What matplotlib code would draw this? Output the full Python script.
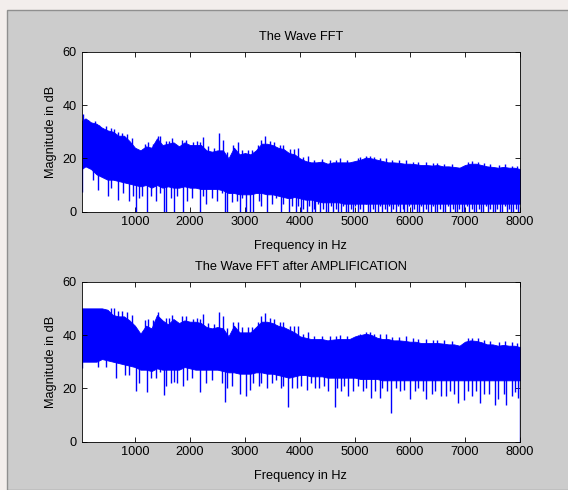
import numpy as np
import matplotlib.pyplot as plt
from matplotlib import font_manager
from matplotlib.patches import Rectangle

# the MATLAB text is narrow; use the narrow face if it is there
_names = {f.name for f in font_manager.fontManager.ttflist}
if 'Liberation Sans Narrow' in _names:
    plt.rcParams['font.family'] = ['Liberation Sans Narrow', 'DejaVu Sans']
    FS = 10.5
else:
    plt.rcParams['font.family'] = ['Liberation Sans', 'DejaVu Sans']
    FS = 9.2

BLUE = '#0000ff'

# envelope grid (Hz), first bin just above 0
ENV_HZ = [30] + list(range(100, 8001, 100))

# top plot: upper edge and lower edge of the solid band (dB)
TOP_HI = [34, 35, 33.5, 33, 31.5, 30.5, 30, 28.5, 28.5, 26.5,
          24, 23, 24.5, 24, 27.5, 25, 25.5, 26, 24.5, 26,
          25, 25, 25, 23, 22.5, 23, 23, 20, 24, 21.5,
          22, 21.5, 23, 25.5, 25.5, 25, 24, 23.5, 22, 21.5,
          20, 19, 18.5, 18.5, 18.8, 18, 18.5, 18.5, 18.5, 18.5,
          19, 19.5, 20.3, 20, 19.5, 19, 18.5, 18.5, 18.3, 18,
          18, 17.8, 17.5, 17.5, 17.3, 17.5, 17, 17, 16.8, 16.5,
          17.5, 18, 18, 17.5, 17, 16.8, 16.5, 16.8, 16.5, 16.5, 16]
TOP_LO = [16, 17, 16, 14, 13, 12, 12, 11.5, 11, 10.5,
          10, 9.5, 10, 9, 10, 9, 9.5, 9, 9, 9.5,
          9, 9, 8.5, 8.5, 8.5, 8.5, 8, 7, 7, 6.5,
          6.5, 6.5, 7, 7, 6.5, 6.5, 6, 5.5, 5, 5.5,
          5, 4.5, 4.5, 4, 3.5, 3.5, 3.5, 3.5, 3, 3,
          3, 3, 3, 3, 3, 3, 3, 3, 3, 3,
          3, 3, 3, 3, 3, 3, 3, 3, 3, 3,
          3, 3, 3, 3, 3, 3, 3, 3, 3, 3, 3]

# bottom plot (after amplification)
BOT_HI = [50, 50, 50, 50, 50, 49.5, 47.5, 47, 47, 45.5,
          43.5, 40.5, 43.5, 42.5, 47.5, 45.5, 44, 46, 44.5, 45.5,
          45, 45, 44.5, 43, 42.5, 43, 42.5, 39.5, 43.5, 41,
          41, 41, 43, 45, 45, 44.5, 43.5, 43, 42, 41,
          39.5, 39, 38.5, 38.5, 38.5, 38, 38.3, 38.5, 38.5, 38.5,
          39.5, 40, 40.5, 40, 39, 38.5, 38.5, 38, 38, 37.8,
          37.5, 37.5, 37, 37, 37, 37, 36.8, 36.5, 36.5, 36,
          37.5, 38, 37.8, 37.3, 36.5, 36.5, 36, 36.3, 36, 36, 35.5]
BOT_LO = [30, 30, 30, 30, 31, 30.5, 30, 29.5, 29, 28.5,
          28, 27, 27, 26.5, 27.5, 27, 27, 27, 27, 28,
          27.5, 27, 27, 27, 27, 27, 26.5, 26, 26, 25.5,
          25.5, 25.5, 26, 26, 25.5, 25.5, 25, 24.5, 24, 24.5,
          25, 25, 24.5, 24.5, 24.5, 24, 24, 24, 24, 24,
          24, 23.5, 23.5, 23.5, 23.5, 23, 23, 23, 23, 23,
          23, 23, 23, 23, 23, 23, 23, 23, 23, 23,
          23, 23, 23, 23, 23, 23, 23, 23, 23, 23, 23]

# single bins sticking out below / above the band (Hz, dB)
TOP_DIPS = [(32, 7.5), (240, 12), (330, 8), (510, 6), (560, 9), (700, 4.5), (780, 7),
            (890, 4), (960, 6), (1012, 0), (1070, 5), (1130, 6), (1212, 0), (1300, 6),
            (1380, 4), (1450, 7), (1527, 0), (1570, 0), (1650, 5), (1709, 0), (1760, 6),
            (1880, 0), (1950, 4), (2030, 5), (2180, 0), (2240, 6), (2300, 3), (2400, 5),
            (2500, 4), (2580, 7), (2636, 0), (2667, 0), (2760, 3.5), (2850, 4), (2909, 0),
            (2950, 5), (3018, 0), (3090, 0), (3150, 0), (3250, 4), (3300, 2), (3400, 0),
            (3500, 3), (3560, 5), (3650, 0), (3700, 3), (3800, 0), (3850, 2),
            (3920, 0), (3960, 2), (4010, 0), (4060, 1), (4120, 0), (4160, 2), (4210, 0),
            (4250, 1), (4280, 0), (4330, 3), (4370, 0), (4420, 1), (4470, 0), (4515, 0),
            (4560, 2), (4606, 0), (4650, 1), (4700, 0), (4740, 0), (4790, 2), (4830, 0),
            (4880, 0), (4920, 1), (4960, 0), (5000, 2), (5050, 0), (5100, 1), (5150, 0),
            (5200, 3), (5240, 0), (5270, 0), (5320, 1), (5360, 0), (5410, 0), (5450, 2),
            (5500, 0), (5540, 1), (5580, 0), (5620, 2), (5650, 0), (5700, 1), (5750, 0),
            (5790, 2), (5820, 0), (5870, 1), (5900, 0), (5950, 0), (5990, 2), (6040, 0),
            (6080, 1), (6120, 0), (6160, 0), (6200, 2), (6240, 0), (6290, 1), (6330, 0),
            (6380, 0), (6420, 2), (6460, 0), (6500, 0), (6550, 1), (6600, 0), (6640, 0),
            (6690, 2), (6730, 0), (6780, 1), (6820, 0), (6860, 0), (6900, 1), (6950, 0),
            (6990, 0), (7040, 2), (7080, 0), (7120, 1), (7160, 0), (7200, 0), (7250, 1),
            (7290, 0), (7330, 0), (7380, 2), (7420, 0), (7460, 1), (7500, 0), (7540, 0),
            (7590, 1), (7630, 0), (7670, 0), (7720, 2), (7760, 0), (7800, 1), (7840, 0),
            (7880, 0), (7930, 1), (7970, 0), (7998, 0)]
TOP_PEAKS = [(60, 36.5), (150, 34.5), (280, 34), (350, 32.5), (470, 32), (560, 31.5),
             (620, 31), (700, 30), (760, 29.5), (860, 29), (950, 27.5), (1180, 25.5),
             (1240, 26), (1330, 25.5), (1420, 28.5), (1460, 28.5), (1560, 26.5),
             (1620, 26.5), (1680, 27.5), (1850, 27), (1920, 27), (2050, 26), (2120, 26.5),
             (2180, 26), (2240, 28), (2330, 24.5), (2440, 24), (2520, 29.5), (2600, 27),
             (2680, 22.5), (2780, 25), (2870, 26), (2950, 23), (3050, 23), (3120, 23),
             (3230, 25), (3300, 27), (3360, 28.5), (3450, 26.5), (3520, 26), (3640, 25),
             (3700, 25), (3820, 23.5), (3900, 23.5), (3960, 24), (4050, 20.5),
             (4150, 20.8), (4250, 19.5), (4400, 19.8), (4550, 19.5), (4650, 19.5),
             (4730, 20), (4850, 19.5), (5050, 20), (5100, 20.5), (5200, 21), (5280, 21),
             (5350, 20.5), (5450, 20.3), (5570, 20.2), (5680, 19.3), (5800, 19.2),
             (5930, 19.5), (6050, 18.8), (6150, 18.5), (6300, 18.5), (6420, 18.2),
             (6500, 18.3), (6620, 18), (6760, 17.8), (7050, 18.7), (7130, 19),
             (7240, 18.7), (7350, 18.3), (7450, 17.8), (7620, 17.5), (7720, 17.8),
             (7850, 17.3), (7950, 17)]

BOT_DIPS = [(32, 27.6), (330, 28), (480, 28), (650, 24), (820, 25), (900, 25), (1010, 19),
            (1080, 22), (1212, 18.5), (1300, 24), (1380, 24), (1450, 26), (1527, 17.5),
            (1570, 21), (1650, 22), (1709, 22.5), (1760, 22), (1880, 21), (1950, 23),
            (2030, 24), (2180, 18.5), (2300, 22), (2400, 23), (2580, 22), (2636, 15),
            (2667, 20), (2760, 21), (2909, 18), (3018, 17), (3090, 19.5), (3150, 22),
            (3250, 21), (3300, 22), (3400, 20), (3500, 22), (3560, 23), (3650, 20),
            (3700, 21), (3790, 13), (3850, 20), (3950, 20), (4020, 21), (4120, 19.5),
            (4200, 22), (4280, 20), (4350, 20), (4430, 21), (4515, 19), (4640, 13),
            (4680, 20), (4740, 19), (4800, 21), (4880, 17), (4960, 19), (5050, 21),
            (5150, 19), (5200, 20), (5290, 16.3), (5360, 19), (5450, 16.3), (5500, 20),
            (5580, 19), (5650, 10.6), (5750, 20), (5820, 19), (5900, 19.5), (6000, 16),
            (6100, 19), (6150, 20), (6230, 19), (6300, 16), (6400, 18), (6450, 19),
            (6570, 17), (6650, 17), (6730, 19), (6800, 18), (6880, 14.5), (6990, 15.5),
            (7060, 19), (7120, 17), (7200, 19), (7270, 14.5), (7350, 18), (7440, 18),
            (7540, 13.6), (7600, 16), (7700, 18), (7750, 13.6), (7850, 17), (7900, 18.5),
            (7970, 16.5), (7998, 0)]
BOT_PEAKS = [(560, 50), (620, 50), (700, 49), (760, 49), (860, 48.5), (950, 47.5),
             (1180, 45.5), (1240, 46), (1330, 45.5), (1420, 48.5), (1560, 46.5),
             (1620, 46.5), (1680, 47.5), (1850, 47), (1920, 47), (2050, 46), (2120, 46.5),
             (2180, 46), (2240, 48), (2330, 44.5), (2440, 44), (2520, 48.5), (2600, 47),
             (2680, 42.5), (2780, 45), (2870, 45), (2950, 43), (3050, 43), (3120, 43),
             (3230, 45), (3300, 47), (3360, 48.3), (3450, 46.5), (3520, 46), (3640, 45),
             (3700, 45), (3820, 43.5), (3900, 43.5), (3960, 43.5), (4050, 40.5),
             (4150, 41.2), (4250, 39.5), (4400, 39.8), (4550, 39.5), (4650, 39.5),
             (4730, 40), (4850, 39.5), (5050, 40), (5100, 40.5), (5200, 41), (5280, 41),
             (5350, 40.5), (5450, 40.3), (5570, 40.2), (5680, 39.3), (5800, 39.2),
             (5930, 39.5), (6050, 38.8), (6150, 38.5), (6300, 38.5), (6420, 38.2),
             (6500, 38.3), (6620, 38), (6760, 37.8), (7050, 38.7), (7130, 39),
             (7240, 38.7), (7350, 38.3), (7450, 37.8), (7620, 37.5), (7720, 37.8),
             (7850, 37.3), (7950, 37)]

TITLES = ['The Wave FFT', 'The Wave FFT after AMPLIFICATION']
XTICKS = [1000, 2000, 3000, 4000, 5000, 6000, 7000, 8000]
YTICKS = [0, 20, 40, 60]


def draw_spectrum(ax, hi, lo, dips, peaks, title):
    ax.fill_between(ENV_HZ, lo, hi, facecolor=BLUE, edgecolor=BLUE, lw=0.6)
    hz, db = zip(*dips)
    ax.vlines(hz, db, np.interp(hz, ENV_HZ, lo) + 0.5, color=BLUE, lw=1.0)
    hz, db = zip(*peaks)
    ax.vlines(hz, np.interp(hz, ENV_HZ, hi) - 0.5, db, color=BLUE, lw=1.0)

    ax.set_xlim(31, 8000)
    ax.set_ylim(0, 60)
    ax.set_xticks(XTICKS)
    ax.set_yticks(YTICKS)
    ax.set_facecolor('white')
    ax.tick_params(direction='in', top=True, right=True, length=3.3, width=0.6,
                   labelsize=FS, colors='black')
    ax.tick_params(axis='x', pad=2.8)
    ax.tick_params(axis='y', pad=3.6)
    for s in ax.spines.values():
        s.set_linewidth(0.6)
    ax.set_title(title, fontsize=FS, pad=8.4)
    ax.set_xlabel('Frequency in Hz', fontsize=FS, va='baseline')
    ax.xaxis.set_label_coords(0.5, -0.236)
    ax.set_ylabel('Magnitude in dB', fontsize=FS, va='baseline')
    ax.yaxis.set_label_coords(-0.063, 0.5)


fig = plt.figure(figsize=(5.68, 4.9), dpi=100, facecolor='#f3eeec')
# window frame of the figure
fig.add_artist(Rectangle((7 / 568, 0), 1, 1 - 10 / 490, transform=fig.transFigure,
                         facecolor='#cccccc', edgecolor='#8f8f8f', lw=1, zorder=-5))

ax1 = fig.add_axes([0.1438, 0.568, 0.7717, 0.3265])
ax2 = fig.add_axes([0.1438, 0.0986, 0.7717, 0.3265])
draw_spectrum(ax1, TOP_HI, TOP_LO, TOP_DIPS, TOP_PEAKS, TITLES[0])
draw_spectrum(ax2, BOT_HI, BOT_LO, BOT_DIPS, BOT_PEAKS, TITLES[1])

fig.savefig('out.png', dpi=100, facecolor=fig.get_facecolor())
